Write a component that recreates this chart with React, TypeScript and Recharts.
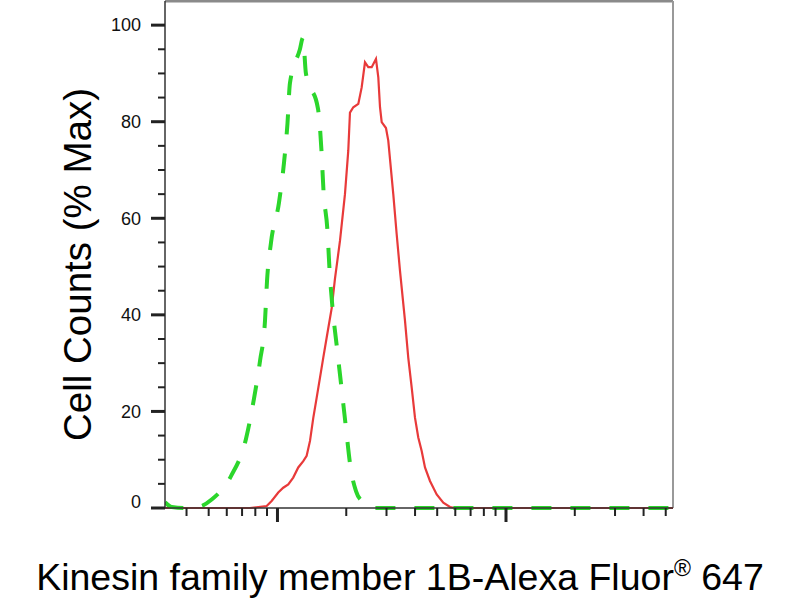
import React from 'react';
import { LineChart, Line, XAxis, YAxis, ReferenceLine } from 'recharts';

// isotype control (green, dashed) - fluorescence / % max
const greenX = [322, 345, 394, 449, 517, 626, 728, 789, 839, 882, 900, 937, 1015, 1068, 1106, 1134, 1254, 1293, 1332, 1504, 1558, 1590, 1655, 1689, 1741, 1821, 1906, 1994, 2087, 2206, 2367, 2540, 53800];
const greenY = [1.2, 0.2, 0, 0.2, 1.8, 6.6, 14.3, 22.6, 30.5, 38.8, 47, 55, 63.2, 71.5, 79.6, 88, 95, 97.4, 90, 82.7, 74, 65.7, 57.4, 49.5, 41.5, 33.2, 24.9, 16.6, 8.5, 3.5, 1.2, 0, 0];

// stained sample (red)
const redX = [322, 758, 897, 943, 1008, 1060, 1115, 1172, 1233, 1297, 1342, 1388, 1434, 1484, 1535, 1586, 1642, 1727, 1785, 1877, 1974, 2041, 2076, 2147, 2258, 2336, 2415, 2497, 2584, 2698, 2762, 2810, 2858, 2984, 3054, 3212, 3324, 3437, 3614, 3736, 3866, 3997, 4132, 4276, 4421, 4649, 4974, 5317, 5687, 5981, 53800];
const redY = [0, 0, 0.4, 1.45, 3.2, 4.2, 4.9, 6.3, 8.4, 9.7, 10.8, 13.9, 18.6, 22.8, 27, 31.1, 35.3, 41.4, 47.5, 55.3, 65, 74, 81.9, 83, 83.7, 87.1, 92.3, 91.3, 91.3, 93, 89.2, 83, 79.9, 78.7, 76.1, 65, 56.7, 49.1, 38.8, 31.1, 25, 18.7, 14.6, 11.8, 8.4, 5.6, 2.8, 1.1, 0.2, 0, 0];

const yTicks = [0, 5, 10, 15, 20, 25, 30, 35, 40, 45, 50, 55, 60, 65, 70, 75, 80, 85, 90, 95, 100];
const yLabelled = [0, 20, 40, 60, 80, 100];
const xTicks = [400, 500, 600, 700, 800, 900, 1000, 2000, 3000, 4000, 5000, 6000, 7000, 8000, 9000, 10000, 20000, 30000, 40000, 50000];
const xMajor = [1000, 10000];
const xDomain = [322, 53800];
const yDomain = [0, 105];

const FONT = '"Liberation Sans", Arial, sans-serif';

const greenData = greenX.map((x, i) => ({ x, v: greenY[i] }));
const redData = redX.map((x, i) => ({ x, v: redY[i] }));

const YTick = ({ x, y, payload }: any) => {
  const major = yLabelled.includes(payload.value);
  return (
    <g>
      <line x1={x - (major ? 14 : 7)} x2={x} y1={y} y2={y} stroke="#222" strokeWidth={major ? 3 : 2} />
      {major && (
        <text x={x - 24} y={y + (payload.value === 0 ? -6 : 0)} dy="0.35em" textAnchor="end"
          fontFamily={FONT} fontSize={18} fill="#111">{payload.value}</text>
      )}
    </g>
  );
};

const XTick = ({ x, y, payload }: any) => {
  const major = xMajor.includes(payload.value);
  return <line x1={x} x2={x} y1={y} y2={y + (major ? 14 : 8)} stroke="#222" strokeWidth={major ? 3 : 2} />;
};

const YTitle = ({ viewBox }: any) => {
  const cx = viewBox.x + 91;
  const cy = viewBox.y + viewBox.height / 2 + 10;
  return (
    <text x={cx} y={cy} transform={`rotate(-90 ${cx} ${cy})`} textAnchor="middle"
      fontFamily={FONT} fontSize={38.5} fill="#000">Cell Counts (% Max)</text>
  );
};

const XTitle = ({ viewBox }: any) => {
  const cx = viewBox.x + viewBox.width / 2 - 19;
  const cy = viewBox.y + 82;
  return (
    <text x={cx} y={cy} textAnchor="middle" fontFamily={FONT} fontSize={37.5} fill="#000">
      Kinesin family member 1B-Alexa Fluor
      <tspan fontSize={23} dy={-14}>®</tspan>
      <tspan dy={14}> 647</tspan>
    </text>
  );
};

export default function App() {
  return (
    <div style={{ position: 'absolute', left: 0, top: 0, width: 800, height: 600, background: '#fff' }}>
      <LineChart width={800} height={600} margin={{ top: 1, right: 127, bottom: 0, left: 0 }}>
        <XAxis dataKey="x" type="number" scale="log" domain={xDomain} allowDataOverflow ticks={xTicks}
          interval={0} tickSize={0} tickMargin={0} tickLine={false} tick={<XTick />} height={92}
          axisLine={{ stroke: '#333', strokeWidth: 1.5 }} label={(p: any) => <XTitle {...p} />} />
        <YAxis type="number" domain={yDomain} ticks={yTicks} interval={0} tickSize={0} tickMargin={0}
          tickLine={false} tick={<YTick />} width={165} axisLine={{ stroke: '#333', strokeWidth: 1.5 }}
          label={(p: any) => <YTitle {...p} />} />
        <ReferenceLine y={105} stroke="#8a8a8a" strokeWidth={3} />
        <ReferenceLine x={53800} stroke="#999" strokeWidth={2} />
        <Line data={redData} dataKey="v" type="linear" stroke="#e83a3a" strokeWidth={2.2} dot={false}
          isAnimationActive={false} />
        <Line data={greenData} dataKey="v" type="monotone" stroke="#2bd62b" strokeWidth={4}
          strokeDasharray="20 19" dot={false} isAnimationActive={false} />
      </LineChart>
    </div>
  );
}
